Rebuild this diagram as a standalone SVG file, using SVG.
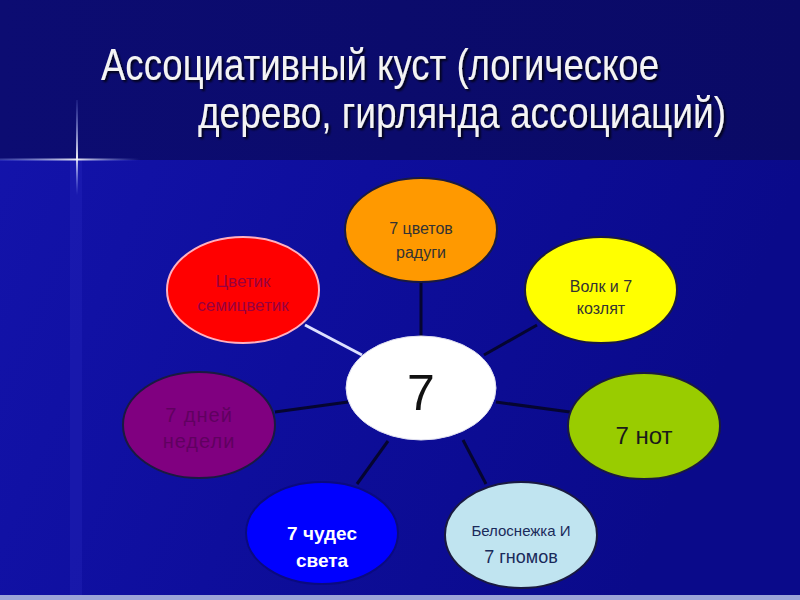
<svg xmlns="http://www.w3.org/2000/svg" width="800" height="600" viewBox="0 0 800 600">
<defs>
<linearGradient id="bgLow" x1="0" y1="0" x2="1" y2="0.3">
<stop offset="0" stop-color="#1414ac"/>
<stop offset="0.5" stop-color="#0e0e9c"/>
<stop offset="1" stop-color="#0a0a8a"/>
</linearGradient>
<linearGradient id="bgTop" x1="0" y1="0" x2="1" y2="0">
<stop offset="0" stop-color="#0c0c72"/>
<stop offset="1" stop-color="#0a0a66"/>
</linearGradient>
<linearGradient id="hflare" x1="0" y1="0" x2="1" y2="0">
<stop offset="0" stop-color="#8fa0ff" stop-opacity="0.3"/>
<stop offset="0.55" stop-color="#ffffff" stop-opacity="0.9"/>
<stop offset="1" stop-color="#8fa0ff" stop-opacity="0"/>
</linearGradient>
<linearGradient id="vflare" x1="0" y1="0" x2="0" y2="1">
<stop offset="0" stop-color="#8fa0ff" stop-opacity="0.1"/>
<stop offset="0.6" stop-color="#ffffff" stop-opacity="0.9"/>
<stop offset="1" stop-color="#8fa0ff" stop-opacity="0"/>
</linearGradient>
<filter id="shadow" x="-5%" y="-20%" width="110%" height="140%">
<feDropShadow dx="2" dy="2" stdDeviation="1" flood-color="#000000" flood-opacity="0.8"/>
</filter>
</defs>
<style>
.title{font-family:"Liberation Sans Narrow","Liberation Sans",Arial,sans-serif;font-size:44px;fill:#f4f4f4}
.node{stroke:#1a1a40;stroke-width:2}
.lbl{font-family:"Liberation Sans",Arial,sans-serif;text-anchor:middle}
.conn{stroke:#050530;stroke-width:3;fill:none}
</style>
<rect x="0" y="0" width="800" height="600" fill="url(#bgLow)"/>
<rect x="0" y="0" width="800" height="160" fill="url(#bgTop)"/>
<rect x="70" y="160" width="12" height="436" fill="#2a2ac0" opacity="0.3"/>
<rect x="0" y="595" width="800" height="5" fill="#9ca4d8"/>
<rect x="0" y="158.5" width="140" height="2" fill="url(#hflare)"/>
<rect x="76" y="100" width="2" height="95" fill="url(#vflare)"/>
<g filter="url(#shadow)">
<text class="title" x="101" y="80" textLength="558" lengthAdjust="spacingAndGlyphs">Ассоциативный куст (логическое</text>
<text class="title" x="198" y="128" textLength="528" lengthAdjust="spacingAndGlyphs">дерево, гирлянда ассоциаций)</text>
</g>
<g id="connectors">
<line class="conn" x1="421" y1="282" x2="421" y2="337"/>
<line x1="305" y1="325" x2="362" y2="355" stroke="#dde0ff" stroke-width="3"/>
<line class="conn" x1="537" y1="325" x2="484" y2="355"/>
<line class="conn" x1="496" y1="402" x2="570" y2="412"/>
<line class="conn" x1="275" y1="412" x2="348" y2="402"/>
<line class="conn" x1="357" y1="484" x2="388" y2="441"/>
<line class="conn" x1="463" y1="440" x2="486" y2="484"/>
</g>
<g id="node-orange">
<ellipse class="node" cx="421" cy="230" rx="76" ry="52" fill="#ff9900"/>
<text class="lbl" x="421" y="234" font-size="16" fill="#333333">7 цветов</text>
<text class="lbl" x="421" y="258" font-size="16" fill="#333333">радуги</text>
</g>
<g id="node-red">
<ellipse cx="243" cy="290" rx="76" ry="53" fill="#ff0000" stroke="#ffb0c0" stroke-width="2"/>
<text class="lbl" x="243" y="287" font-size="17" fill="#990040">Цветик</text>
<text class="lbl" x="243" y="311" font-size="17" fill="#990040">семицветик</text>
</g>
<g id="node-yellow">
<ellipse class="node" cx="601" cy="290" rx="76" ry="53" fill="#ffff00"/>
<text class="lbl" x="601" y="292" font-size="16" fill="#333333">Волк и 7</text>
<text class="lbl" x="601" y="314" font-size="16" fill="#333333">козлят</text>
</g>
<g id="node-green">
<ellipse class="node" cx="644" cy="426" rx="76" ry="53" fill="#99cc00"/>
<text class="lbl" x="644" y="444" font-size="24" fill="#1a1a1a">7 нот</text>
</g>
<g id="node-center">
<ellipse cx="421" cy="388" rx="75" ry="52" fill="#ffffff" stroke="#e0e0f0" stroke-width="1"/>
<text class="lbl" x="421" y="410" font-size="50" fill="#111111">7</text>
</g>
<g id="node-purple">
<ellipse class="node" cx="199" cy="425" rx="76" ry="53" fill="#800080"/>
<text class="lbl" x="199" y="422" font-size="20" fill="#600060" letter-spacing="1">7 дней</text>
<text class="lbl" x="199" y="448" font-size="20" fill="#600060" letter-spacing="1">недели</text>
</g>
<g id="node-blue">
<ellipse cx="322" cy="533" rx="76" ry="51" fill="#0000ff" stroke="#0a0a80" stroke-width="2"/>
<text class="lbl" x="322" y="540" font-size="19" font-weight="bold" fill="#ffffff">7 чудес</text>
<text class="lbl" x="322" y="567" font-size="19" font-weight="bold" fill="#ffffff">света</text>
</g>
<g id="node-lightblue">
<ellipse class="node" cx="521" cy="535" rx="76" ry="53" fill="#c0e4f0"/>
<text class="lbl" x="521" y="536" font-size="15" fill="#1a2a5a">Белоснежка И</text>
<text class="lbl" x="521" y="563" font-size="18" fill="#1a2a5a">7 гномов</text>
</g>
</svg>
